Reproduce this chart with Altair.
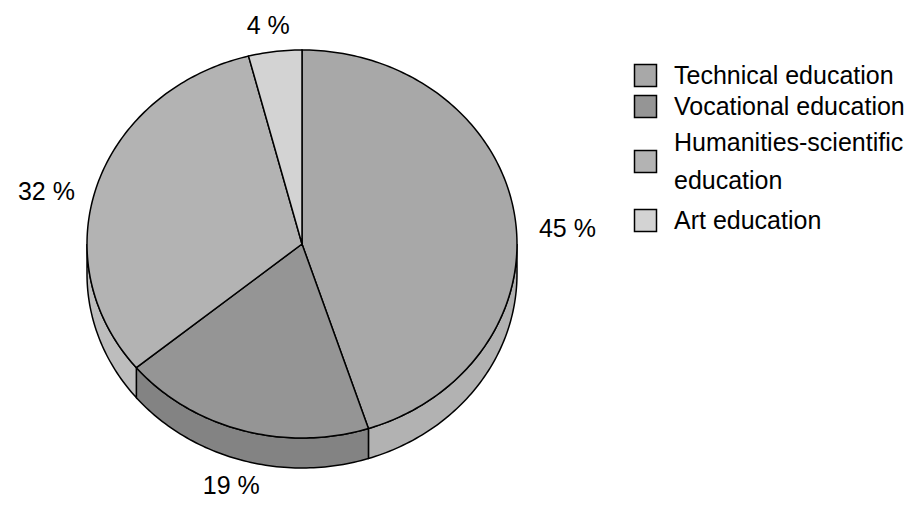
import altair as alt
import numpy as np

# ---- data ----
categories = ["Technical education", "Vocational education",
              "Humanities-scientific education", "Art education"]
shares = [45, 19, 32, 4]
pct_labels = ["45 %", "19 %", "32 %", "4 %"]
top_colors = ["#a8a8a8", "#959595", "#b3b3b3", "#d3d3d3"]
side_colors = ["#b2b2b2", "#838383", "#bdbdbd", "#d3d3d3"]

# legend swatches: squares; the two-line entry's swatch sits between its lines
# (the two bare move-to points only widen that entry's layout box)
SQ = "M-1,-1L1,-1L1,1L-1,1Z"
SQ_LOW = "M-1,0.73L1,0.73L1,2.73L-1,2.73Z M0,-1.45Z M0,5.23Z"
legend_shapes = [SQ, SQ, SQ_LOW, SQ]

# ---- 3D pie geometry (unit radius, tilted ellipse) ----
ASPECT = 194 / 215      # vertical squash of the top face
DEPTH = 30 / 215        # thickness of the pie
LABEL_R = 1.25
LABEL_DY = DEPTH / 2 + 0.035


def pt(t_deg, dy=0.0, r=1.0):
    t = np.radians(t_deg)
    return [float(r * np.sin(t)), float(-r * np.cos(t) * ASPECT + dy)]


def arc(a, b, dy=0.0):
    n = max(2, int(np.ceil(abs(b - a))) + 1)
    return [pt(t, dy) for t in np.linspace(a, b, n)]


def feature(ring, **props):
    return {"type": "Feature", "properties": props,
            "geometry": {"type": "Polygon", "coordinates": [ring]}}


total = float(sum(shares))
edges = np.concatenate([[0.0], np.cumsum(shares)]) / total * 360.0

tops, sides, label_rows = [], [], []
for i, cat in enumerate(categories):
    a, b = edges[i], edges[i + 1]
    ring = [[0.0, 0.0]] + arc(a, b) + [[0.0, 0.0]]
    tops.append(feature(ring, cat=cat))
    s, e = max(a, 90.0), min(b, 270.0)
    if e > s:
        ring = arc(s, e) + arc(s, e, DEPTH)[::-1]
        ring.append(ring[0])
        sides.append(feature(ring, cat=cat, fill=side_colors[i]))
    mid = (a + b) / 2.0
    r = LABEL_R - 0.075 * max(0.0, -np.cos(np.radians(mid)))
    lx, ly = pt(mid, LABEL_DY, r)
    label_rows.append({"lon": lx, "lat": ly, "label": pct_labels[i]})

proj = dict(type="identity", scale=215, translate=[294, 236])
FONT = "Liberation Sans"


def make_legend():
    return alt.Legend(
        title=None, orient="none", legendX=625, legendY=55,
        symbolType="square", symbolSize=484,
        symbolStrokeColor="black", symbolStrokeWidth=1.5,
        symbolOpacity=1,
        labelFont=FONT, labelFontSize=25, labelColor="black",
        labelLimit=0, labelOffset=16, rowPadding=2,
        labelExpr="datum.label == 'Humanities-scientific education' ? "
                  "['Humanities-scientific', 'education'] : datum.label",
    )


fill_enc = alt.Fill("properties.cat:N",
                    scale=alt.Scale(domain=categories, range=top_colors),
                    legend=make_legend())

side_layer = alt.Chart(alt.InlineData(
    values={"type": "FeatureCollection", "features": sides},
    format=alt.DataFormat(property="features", type="json"))
).mark_geoshape(stroke="black", strokeWidth=1.5).encode(
    fill=alt.Fill("properties.fill:N", scale=None)
).project(**proj)

# hidden helper points (under the top face) that give the legend its swatch shapes
key_layer = alt.Chart(alt.Data(values=[{"properties": {"cat": c}} for c in categories])
).mark_point(filled=True, size=4).encode(
    longitude=alt.datum(0), latitude=alt.datum(0),
    fill=fill_enc,
    shape=alt.Shape("properties.cat:N",
                    scale=alt.Scale(domain=categories, range=legend_shapes),
                    legend=make_legend()),
).project(**proj)

top_layer = alt.Chart(alt.InlineData(
    values={"type": "FeatureCollection", "features": tops},
    format=alt.DataFormat(property="features", type="json"))
).mark_geoshape(stroke="black", strokeWidth=1.5).encode(
    fill=fill_enc
).project(**proj)

text_layer = alt.Chart(alt.Data(values=label_rows)).mark_text(
    font=FONT, fontSize=25, color="black"
).encode(
    longitude="lon:Q", latitude="lat:Q", text="label:N"
).project(**proj)

chart = alt.layer(side_layer, key_layer, top_layer, text_layer).properties(
    width=905, height=490, padding=0,
    autosize=alt.AutoSizeParams(type="none"),
).configure_view(stroke=None).configure(
    style={"guide-label": {"lineHeight": 38}}
)

chart.save("out.html", embed_options={"renderer": "svg", "actions": False})
